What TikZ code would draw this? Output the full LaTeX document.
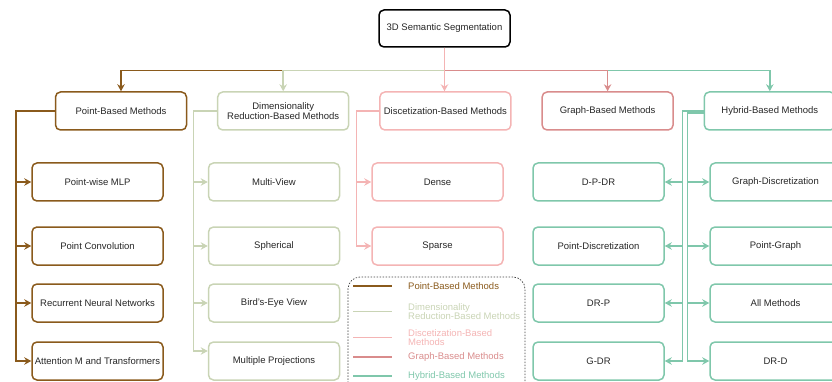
\documentclass[tikz,border=0pt]{standalone}
\usepackage{fontspec}
\setmainfont{Liberation Sans}
\usetikzlibrary{arrows.meta, positioning, calc}
\definecolor{pbrown}{HTML}{8A5A1C}
\definecolor{dsage}{HTML}{C9D4B5}
\definecolor{dpink}{HTML}{F4B4B4}
\definecolor{gred}{HTML}{D98C8C}
\definecolor{hteal}{HTML}{7FC7AB}

\begin{document}
\begin{tikzpicture}[
  x=1pt, y=-1pt,
  node distance=29.7pt,
  box/.style={rectangle, rounded corners=5pt, draw, line width=1.5pt,
              minimum width=131pt, minimum height=38pt, align=center,
              inner sep=1pt, font=\fontsize{9.5}{9.5}\selectfont, text=black!85},
  root/.style={box, draw=black, minimum height=37pt},
  pb/.style={box, draw=pbrown},
  dr/.style={box, draw=dsage},
  ds/.style={box, draw=dpink},
  gb/.style={box, draw=gred},
  hb/.style={box, draw=hteal},
  arr/.style={-{Stealth[length=7pt, width=7.5pt]}, line width=1.5pt},
  leg/.style={anchor=west, inner sep=0pt, align=left,
              font=\fontsize{9.5}{9.5}\selectfont},
]
  \useasboundingbox (0,0) rectangle (832,382);

  \node[root] (root) at (444.5,28.5) {3D Semantic Segmentation};

  % main families
  \node[pb] (pbm) at (121,111) {Point-Based Methods};
  \node[dr, right=of pbm] (drm) {Dimensionality\\Reduction-Based Methods};
  \node[ds, right=of drm] (dsm) {Discetization-Based Methods};
  \node[gb, right=of dsm] (gbm) {Graph-Based Methods};
  \node[hb, right=of gbm] (hbm) {Hybrid-Based Methods};

  % sub-methods
  \node[pb] (mlp)   at (97.5,182) {Point-wise MLP};
  \node[pb] (pconv) at (97.5,246) {Point Convolution};
  \node[pb] (rnn)   at (97.5,303) {Recurrent Neural Networks};
  \node[pb] (attn)  at (97.5,361) {Attention M and Transformers};

  \node[dr] (mview) at (274,182) {Multi-View};
  \node[dr] (sph)   at (274,246) {Spherical};
  \node[dr] (bev)   at (274,303) {Bird's-Eye View};
  \node[dr] (mproj) at (274,361) {Multiple Projections};

  \node[ds] (dense)  at (437.5,182) {Dense};
  \node[ds] (sparse) at (437.5,246) {Sparse};

  \node[hb] (dpdr)  at (598.5,182) {D-P-DR};
  \node[hb] (pdisc) at (598.5,246) {Point-Discretization};
  \node[hb] (drp)   at (598.5,303) {DR-P};
  \node[hb] (gdr)   at (598.5,361) {G-DR};

  \node[hb] (gdisc)  at (775.5,182) {Graph-Discretization};
  \node[hb] (pgraph) at (775.5,246) {Point-Graph};
  \node[hb] (allm)   at (775.5,303) {All Methods};
  \node[hb] (drd)    at (775.5,361) {DR-D};

  % root to families
  \draw[arr, pbrown] (root.south) -- ++(0,23) -| (pbm.north);
  \draw[arr, dsage]  (root.south) -- ++(0,23) -| (drm.north);
  \draw[arr, hteal]  (root.south) -- ++(0,23) -| (hbm.north);
  \draw[arr, gred]   (root.south) -- ++(0,23) -| (gbm.north);
  \draw[arr, dpink]  (root.south) -- (root.south |- dsm.north);

  % point-based
  \draw[arr, pbrown] (pbm.west) -- ++(-39,0) |- (mlp.west);
  \draw[arr, pbrown] (pbm.west) -- ++(-39,0) |- (pconv.west);
  \draw[arr, pbrown] (pbm.west) -- ++(-39,0) |- (rnn.west);
  \draw[arr, pbrown] (pbm.west) -- ++(-39,0) |- (attn.west);

  % dimensionality reduction
  \draw[arr, dsage] (drm.west) -- ++(-23.5,0) |- (mview.west);
  \draw[arr, dsage] (drm.west) -- ++(-23.5,0) |- (sph.west);
  \draw[arr, dsage] (drm.west) -- ++(-23.5,0) |- (bev.west);
  \draw[arr, dsage] (drm.west) -- ++(-23.5,0) |- ([yshift=10pt]mproj.west);

  % discretization
  \draw[arr, dpink] (dsm.west) -- ++(-22.5,0) |- (dense.west);
  \draw[arr, dpink] (dsm.west) -- ++(-22.5,0) |- (sparse.west);

  % hybrid, two trunks
  \draw[arr, hteal] (hbm.west) -- ++(-21,0) |- (dpdr.east);
  \draw[arr, hteal] (hbm.west) -- ++(-21,0) |- (pdisc.east);
  \draw[arr, hteal] (hbm.west) -- ++(-21,0) |- (drp.east);
  \draw[arr, hteal] (hbm.west) -- ++(-21,0) |- (gdr.east);
  \draw[arr, hteal] ([yshift=-2pt]hbm.west) -- ++(-16,0) |- (gdisc.west);
  \draw[arr, hteal] ([yshift=-2pt]hbm.west) -- ++(-16,0) |- (pgraph.west);
  \draw[arr, hteal] ([yshift=-2pt]hbm.west) -- ++(-16,0) |- (allm.west);
  \draw[arr, hteal] ([yshift=-2pt]hbm.west) -- ++(-16,0) |- (drd.west);

  % legend
  \node[draw=black!75, dash pattern=on 1.5pt off 1.5pt, line width=0.7pt,
        rounded corners=12pt, minimum width=177pt, minimum height=120pt]
    (legend) at (436.5,337) {};
  \node[leg, text=pbrown] (lpb) at (408,286) {Point-Based Methods};
  \node[leg, text=dsage]  (ldr) at (408,311.5) {Dimensionality\\Reduction-Based Methods};
  \node[leg, text=dpink]  (lds) at (408,337.5) {Discetization-Based\\Methods};
  \node[leg, text=gred]   (lgb) at (408,357) {Graph-Based Methods};
  \node[leg, text=hteal]  (lhb) at (408,376) {Hybrid-Based Methods};
  \draw[line width=1.5pt, pbrown] ([xshift=-55pt]lpb.west) -- ++(39,0);
  \draw[line width=1.5pt, dsage]  ([xshift=-55pt]ldr.west) -- ++(39,0);
  \draw[line width=1.5pt, dpink]  ([xshift=-55pt]lds.west) -- ++(39,0);
  \draw[line width=1.5pt, gred]   ([xshift=-55pt]lgb.west) -- ++(39,0);
  \draw[line width=1.5pt, hteal]  ([xshift=-55pt]lhb.west) -- ++(39,0);
\end{tikzpicture}
\end{document}
